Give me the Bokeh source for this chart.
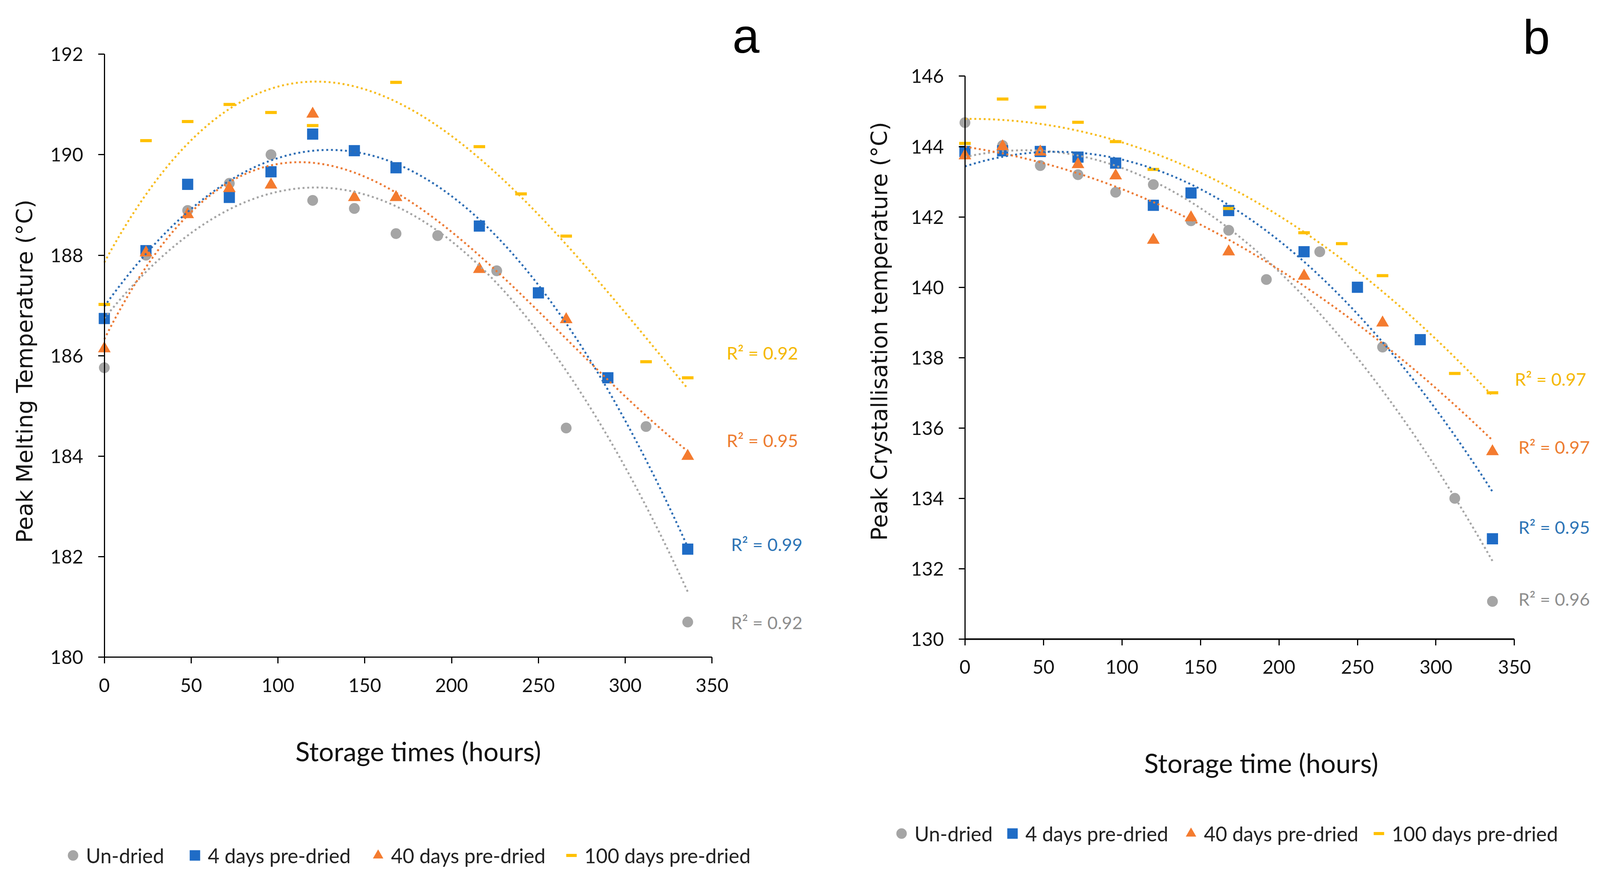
import numpy as np
from bokeh.plotting import figure
from bokeh.models import FixedTicker, Label, Legend, LegendItem, Range1d
from bokeh.layouts import row
from bokeh.embed import file_html
from bokeh.resources import INLINE

# ---------------- data ----------------
# Panel a: Peak Melting Temperature
a_t_undried = [0, 24, 48, 72, 96, 120, 144, 168, 192, 226, 266, 312, 336]
a_undried = [185.76, 188.0, 188.89, 189.43, 190.0, 189.09, 188.93, 188.43, 188.39, 187.69, 184.56, 184.59, 180.7]
a_t_4d = [0, 24, 48, 72, 96, 120, 144, 168, 216, 250, 290, 336]
a_4d = [186.74, 188.09, 189.41, 189.15, 189.66, 190.41, 190.08, 189.74, 188.58, 187.25, 185.56, 182.15]
a_t_40d = [0, 24, 48, 72, 96, 120, 144, 168, 216, 266, 336]
a_40d = [186.14, 188.05, 188.81, 189.33, 189.4, 190.81, 189.15, 189.15, 187.72, 186.72, 184.0]
a_t_100d = [0, 24, 48, 72, 96, 120, 168, 216, 240, 266, 312, 336]
a_100d = [187.02, 190.28, 190.66, 191.0, 190.84, 190.58, 191.44, 190.16, 189.22, 188.38, 185.88, 185.56]
a_r2 = ["R² = 0.92", "R² = 0.99", "R² = 0.95", "R² = 0.92"]  # undried, 4d, 40d, 100d
a_fit_order = [2, 2, 3, 3]

# Panel b: Peak Crystallisation temperature
b_t_undried = [0, 24, 48, 72, 96, 120, 144, 168, 192, 226, 266, 312, 336]
b_undried = [144.68, 144.03, 143.46, 143.2, 142.7, 142.92, 141.89, 141.62, 140.22, 141.01, 138.3, 134.0, 131.07]
b_t_4d = [0, 24, 48, 72, 96, 120, 144, 168, 216, 250, 290, 336]
b_4d = [143.86, 143.88, 143.86, 143.7, 143.53, 142.33, 142.68, 142.18, 141.01, 140.0, 138.51, 132.85]
b_t_40d = [0, 24, 48, 72, 96, 120, 144, 168, 216, 266, 336]
b_40d = [143.74, 144.0, 143.85, 143.49, 143.17, 141.34, 141.98, 141.01, 140.32, 138.99, 135.33]
b_t_100d = [0, 24, 48, 72, 96, 120, 168, 216, 240, 266, 312, 336]
b_100d = [144.09, 145.35, 145.12, 144.69, 144.14, 143.35, 142.24, 141.55, 141.24, 140.33, 137.55, 137.0]
b_r2 = ["R² = 0.96", "R² = 0.95", "R² = 0.97", "R² = 0.97"]
b_fit_order = [2, 2, 2, 2]

series_names = ["Un-dried", "4 days pre-dried", "40 days pre-dried", "100 days pre-dried"]
x_ticks = [0, 50, 100, 150, 200, 250, 300, 350]
a_y_ticks = [180, 182, 184, 186, 188, 190, 192]
b_y_ticks = [130, 132, 134, 136, 138, 140, 142, 144, 146]

# ---------------- styles ----------------
S = 1 / 1.013  # pixel scale calibration


def px(v):
    return int(round(v * S))


def fs(v):
    return "%.1fpx" % (v * S)


MARK_COL = ["#A5A5A5", "#1F6CC6", "#F47B2F", "#FFC000"]
LINE_COL = ["#A5A5A5", "#2E6EB5", "#EC7B36", "#F7BC1E"]
R2_COL = ["#8E8E8E", "#2E75B6", "#ED7D31", "#F5B800"]
TICK_FONT = "Lato"


def make_panel(width, height, px0, px350, py_top, py_bot, y0, y1, yticks, xw_axis):
    width, height = px(width), px(height)
    px0, px350, py_top, py_bot = px0 * S, px350 * S, py_top * S, py_bot * S
    sx = (px350 - px0) / 350.0
    sy = (py_bot - py_top) / float(y1 - y0)
    xr = Range1d(-px0 / sx, (width - px0) / sx)
    yr = Range1d(y0 - (height - py_bot) / sy, y1 + py_top / sy)
    p = figure(width=width, height=height, x_range=xr, y_range=yr,
               output_backend="svg", toolbar_location=None, min_border=0)
    p.outline_line_color = None
    p.xgrid.visible = False
    p.ygrid.visible = False
    p.xaxis.ticker = FixedTicker(ticks=x_ticks)
    p.yaxis.ticker = FixedTicker(ticks=yticks)
    p.xaxis.fixed_location = y0
    p.yaxis.fixed_location = 0
    p.xaxis.bounds = (0, 350)
    p.yaxis.bounds = (y0, y1)
    for ax, lw in ((p.xaxis, xw_axis), (p.yaxis, 3)):
        ax.axis_line_color = "black"
        ax.axis_line_width = lw * S
        ax.major_tick_line_color = "black"
        ax.major_tick_line_width = 3 * S
        ax.major_tick_in = 0
        ax.major_tick_out = px(16)
        ax.minor_tick_line_color = None
        ax.major_label_text_font = TICK_FONT
        ax.major_label_text_font_size = fs(49)
        ax.major_label_text_color = "#111111"
        ax.major_label_standoff = px(38)
    return p


def add_series(p, ts, ys, degs):
    rends = []
    kinds = ["circle", "square", "triangle", "dash"]
    sizes = [28, 29, 33, 30]
    for i, (t, y) in enumerate(zip(ts, ys)):
        if kinds[i] == "dash":
            r = p.scatter(t, y, marker="dash", size=sizes[i] * S, line_color=MARK_COL[i],
                          line_width=8 * S)
        else:
            r = p.scatter(t, y, marker=kinds[i], size=sizes[i] * S, fill_color=MARK_COL[i],
                          line_color=None)
        rends.append(r)
    for i, (t, y) in enumerate(zip(ts, ys)):
        c = np.polyfit(np.array(t, float), np.array(y, float), degs[i])
        xx = np.linspace(min(t), max(t), 300)
        p.line(xx, np.polyval(c, xx), line_color=LINE_COL[i], line_width=5 * S,
               line_dash="5 7", line_cap="butt")
    return rends


def add_legend(p, rends, xs, vy):
    for r, name, x in zip(rends, series_names, xs):
        leg = Legend(items=[LegendItem(label=name, renderers=[r])], location=(px(x), px(vy)),
                     orientation="horizontal", glyph_width=px(68), glyph_height=px(68),
                     label_standoff=0, padding=0, margin=0, spacing=0,
                     border_line_alpha=0, background_fill_alpha=0,
                     label_text_font="Lato", label_text_font_size=fs(52),
                     label_text_color="#222222", label_text_baseline="middle")
        p.add_layout(leg)


def add_label(p, x, y, text, font, size, color, baseline="middle", angle=0.0):
    p.add_layout(Label(x=x, y=y, text=text, text_font=font, text_font_size=fs(size),
                       text_color=color, text_align="center", text_baseline=baseline,
                       angle=angle))


# ---------------- panel a ----------------
pa = make_panel(2092, 2264, 270, 1846, 140, 1703, 180, 192, a_y_ticks, 3)
ra = add_series(pa, [a_t_undried, a_t_4d, a_t_40d, a_t_100d],
                [a_undried, a_4d, a_40d, a_100d], a_fit_order)
add_legend(pa, ra, [155, 471, 946, 1448], 13)

a_r2_pos = [(381.5, 180.69), (381.5, 182.25), (379, 184.32), (379, 186.06)]
for txt, (x, y), col in zip(a_r2, a_r2_pos, R2_COL):
    add_label(pa, x, y, txt, "Lato", 46, col)
add_label(pa, 369.5, 192.37, "a", "Liberation Sans", 126, "black", baseline="alphabetic")
add_label(pa, 180.8, 178.13, "Storage times (hours)", "Lato", 69, "#111111")
add_label(pa, -45.7, 185.69, "Peak Melting Temperature (°C)", "DejaVu Sans", 58, "#111111",
          angle=np.pi / 2)

# ---------------- panel b ----------------
pb = make_panel(2056, 2264, 410, 1835, 197, 1656, 130, 146, b_y_ticks, 4)
rb = add_series(pb, [b_t_undried, b_t_4d, b_t_40d, b_t_100d],
                [b_undried, b_4d, b_40d, b_100d], b_fit_order)
add_legend(pb, rb, [212, 499, 962, 1450], 70)

b_r2_pos = [(375.3, 131.14), (375.3, 133.19), (375.3, 135.46), (373, 137.4)]
for txt, (x, y), col in zip(b_r2, b_r2_pos, R2_COL):
    add_label(pb, x, y, txt, "Lato", 46, col)
add_label(pb, 364, 147.12, "b", "Liberation Sans", 126, "black", baseline="alphabetic")
add_label(pb, 188.7, 126.48, "Storage time (hours)", "Lato", 69, "#111111")
add_label(pb, -54.3, 138.75, "Peak Crystallisation temperature (°C)", "DejaVu Sans", 58,
          "#111111", angle=np.pi / 2)

layout = row(pa, pb)
open("out.html", "w").write(file_html(layout, INLINE))
